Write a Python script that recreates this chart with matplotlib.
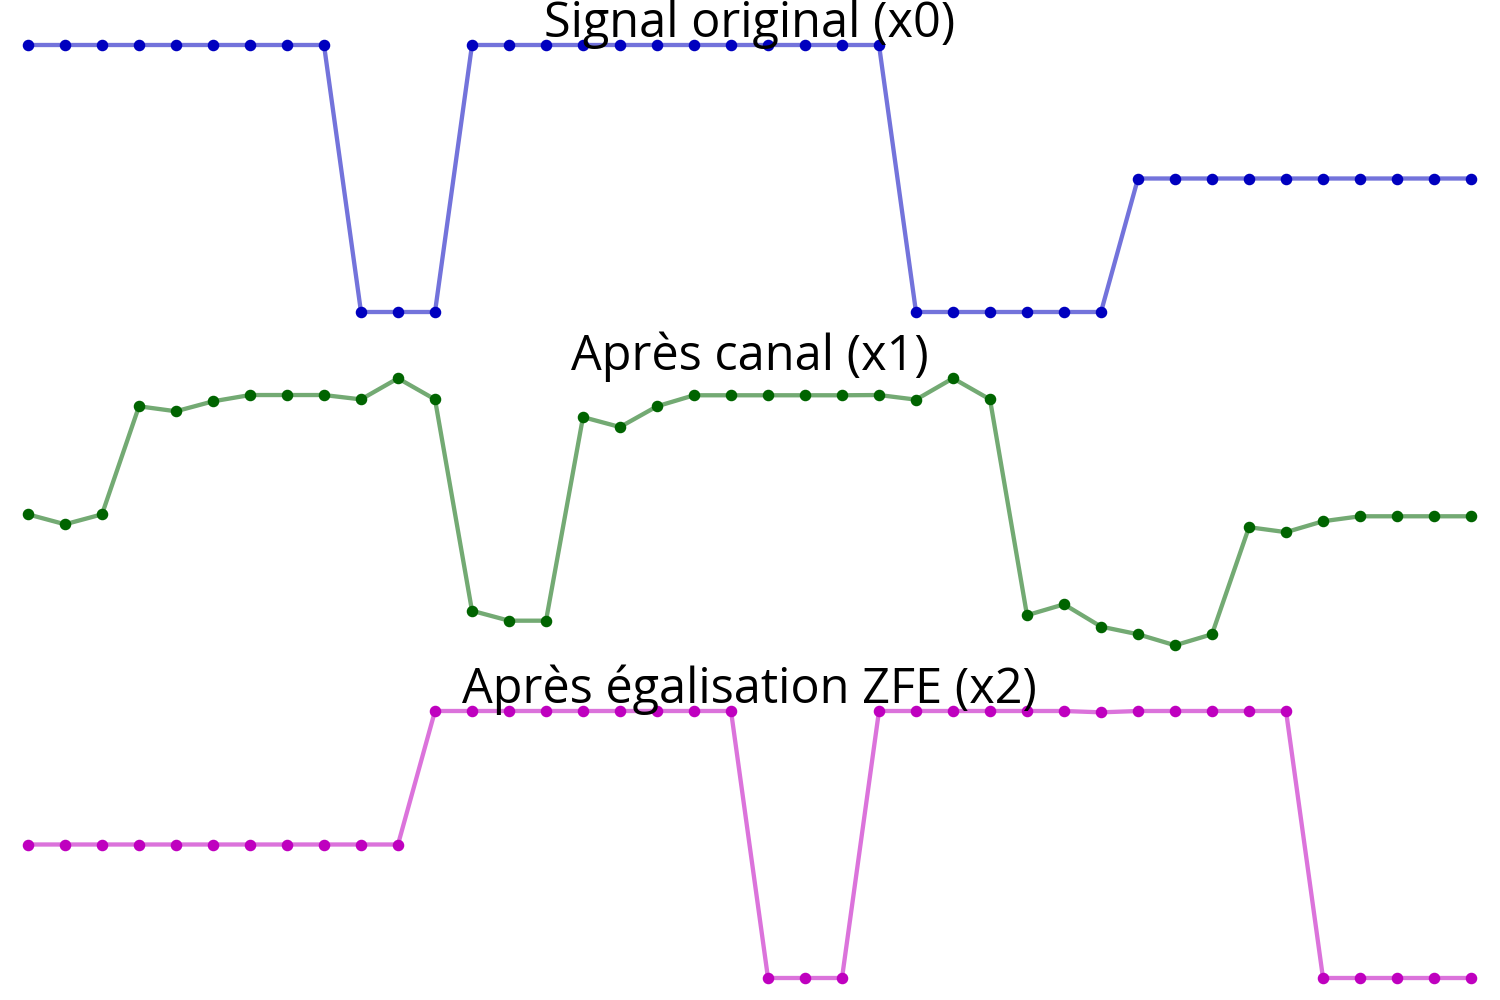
import numpy as np
import matplotlib
matplotlib.use("Agg")
import matplotlib.pyplot as plt

plt.rcParams['font.family'] = ['Open Sans', 'DejaVu Sans']

# Indices des échantillons
n = np.arange(40)

# Signal original (x0)
x0 = [1, 1, 1, 1, 1, 1, 1, 1, 1, -1, -1, -1,
      1, 1, 1, 1, 1, 1, 1, 1, 1, 1, 1, 1,
      -1, -1, -1, -1, -1, -1,
      0, 0, 0, 0, 0, 0, 0, 0, 0, 0]

# Après canal (x1)
x1 = [0.016, -0.066, 0.016, 0.907, 0.866, 0.948, 1.0, 1.0, 1.0, 0.964,
      1.138, 0.964, -0.779, -0.861, -0.861, 0.818, 0.736, 0.907, 0.998, 0.998,
      0.998, 0.998, 0.998, 1.0, 0.962, 1.138, 0.964, -0.816, -0.726, -0.910,
      -0.973, -1.064, -0.973, -0.090, -0.131, -0.041, 0.0, 0.0, 0.0, 0.0]

# Après égalisation ZFE (x2)
x2 = [0, 0, 0, 0, 0, 0, 0, 0, 0, 0, 0,
      1, 1, 1, 1, 1, 1, 1, 1, 1,
      -1, -1, -1,
      1, 1, 1, 1, 1, 1, 0.99, 1, 1, 1, 1, 1,
      -1, -1, -1, -1, -1]

titres = ['Signal original (x0)', 'Après canal (x1)', 'Après égalisation ZFE (x2)']
couleurs = ['#0000BF', '#006400', '#BF00BF']
signaux = [x0, x1, x2]

fig = plt.figure(figsize=(15, 10), dpi=100)

# position des axes (fraction de la figure)
bas = [0.688, 0.3547, 0.022]
for sig, titre, c, b in zip(signaux, titres, couleurs, bas):
    ax = fig.add_axes([28 / 1500, b, 1443 / 1500, 0.267])
    ax.plot(n, sig, color=c, alpha=0.55, lw=3.1, clip_on=False)
    ax.plot(n, sig, 'o', color=c, ms=7.3, clip_on=False)
    ax.set_xlim(0, 39)
    ax.set_ylim(min(sig), max(sig))
    # y fixé : sinon matplotlib remonte le titre au-dessus de l'axe
    ax.set_title(titre, fontsize=35, pad=5.8, y=1.0)
    ax.axis('off')

fig.savefig('out.png', dpi=100)
